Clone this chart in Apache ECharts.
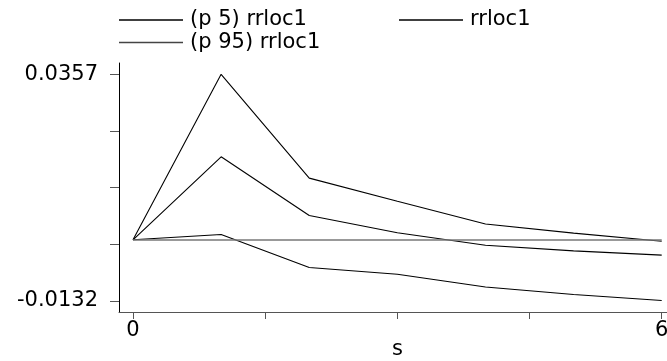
<!DOCTYPE html>
<html>
<head>
<meta charset="utf-8">
<script src="https://cdn.jsdelivr.net/npm/echarts@6/dist/echarts.min.js"></script>
<style>
html,body{margin:0;padding:0;background:#fff;}
#chart{width:667px;height:361px;}
</style>
</head>
<body>
<div id="chart"></div>
<script>
// ---- data ----
var xValues = [0, 1, 2, 3, 4, 5, 6];
var p5Values = [0, 0.00114, -0.00598, -0.00743, -0.01017, -0.01182, -0.0131];
var estValues = [0, 0.0179, 0.00525, 0.00153, -0.00119, -0.0024, -0.0033];
var p95Values = [0, 0.0357, 0.0133, 0.0083, 0.0034, 0.00143, -0.0003];
var seriesNames = ['(p 5) rrloc1', 'rrloc1', '(p 95) rrloc1'];
var yTickValues = [-0.0132, -0.000975, 0.01125, 0.023475, 0.0357];
var yLabelValues = [-0.0132, 0.0357];
var xTickValues = [0, 1.5, 3, 4.5, 6];
var xLabelValues = [0, 6];
var xTitle = 's';

function pairs(xs, ys) { return xs.map(function (x, i) { return [x, ys[i]]; }); }

var FONT = 'DejaVu Sans';
var chart = echarts.init(document.getElementById('chart'), null, {renderer: 'canvas'});

function legendAt(left, top, name, color) {
  return {
    left: left, top: top, padding: 0,
    data: [{name: name, itemStyle: {color: color}}],
    icon: 'rect', itemWidth: 64, itemHeight: 1.3,
    selectedMode: false,
    textStyle: {fontFamily: FONT, fontSize: 21, color: '#000', padding: [0, 0, 0, 2]}
  };
}

var lineStyle = {color: '#000', width: 1.1};

chart.setOption({
  animation: false,
  backgroundColor: '#fff',
  legend: [
    legendAt(119, 9.5, seriesNames[0], '#000'),
    legendAt(399, 9.5, seriesNames[1], '#000'),
    legendAt(119, 32, seriesNames[2], '#444')
  ],
  grid: {left: 119, right: 0, top: 63, bottom: 49, containLabel: false, outerBoundsMode: 'none'},
  xAxis: {
    type: 'value',
    min: -0.159, max: 6.06,
    name: xTitle, nameLocation: 'middle', nameGap: 27, nameMoveOverlap: false,
    nameTextStyle: {fontFamily: FONT, fontSize: 21, color: '#000', padding: [0, 0, 0, 9]},
    axisLine: {show: true, onZero: false, lineStyle: {color: '#555', width: 1}},
    axisTick: {show: true, length: 7, customValues: xTickValues, lineStyle: {color: '#555', width: 1}},
    axisLabel: {customValues: xLabelValues, margin: 8, fontFamily: FONT, fontSize: 21, color: '#000',
      formatter: function (v) { return String(v); }},
    splitLine: {show: false}
  },
  yAxis: {
    type: 'value',
    min: -0.01558, max: 0.03814,
    axisLine: {show: true, onZero: false, lineStyle: {color: '#000', width: 1}},
    axisTick: {show: true, length: 9, customValues: yTickValues, lineStyle: {color: '#555', width: 1}},
    axisLabel: {customValues: yLabelValues, margin: 21, fontFamily: FONT, fontSize: 21, color: '#000',
      formatter: function (v) { return v.toFixed(4); }},
    splitLine: {show: false}
  },
  series: [
    {
      name: seriesNames[0], type: 'line', data: pairs(xValues, p5Values),
      symbol: 'none', lineStyle: lineStyle, itemStyle: {color: '#000'}, z: 3,
      markLine: {
        silent: true, symbol: ['none', 'none'], label: {show: false},
        lineStyle: {color: '#777', width: 1.6, type: 'solid'},
        data: [[{coord: [xValues[0], 0]}, {coord: [xValues[xValues.length - 1], 0]}]]
      }
    },
    {
      name: seriesNames[1], type: 'line', data: pairs(xValues, estValues),
      symbol: 'none', lineStyle: lineStyle, itemStyle: {color: '#000'}, z: 3
    },
    {
      name: seriesNames[2], type: 'line', data: pairs(xValues, p95Values),
      symbol: 'none', lineStyle: lineStyle, itemStyle: {color: '#000'}, z: 3
    }
  ]
});
</script>
</body>
</html>
